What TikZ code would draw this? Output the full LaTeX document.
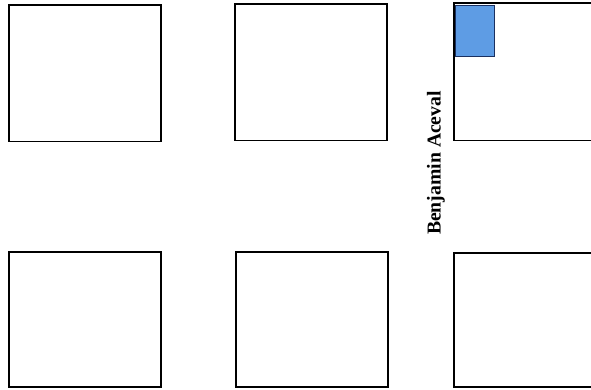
\documentclass[tikz,border=0pt]{standalone}
\usepackage{fontspec}
\setmainfont{Liberation Serif}
\usetikzlibrary{positioning}
\definecolor{seatblue}{HTML}{5E9CE4}
\definecolor{seatedge}{HTML}{1A3060}

\begin{document}
\begin{tikzpicture}[x=0.03cm, y=-0.03cm,
    panel/.style={draw=black, line width=1.3pt, fill=white, anchor=north west,
      inner sep=0pt, minimum width=4.56cm, minimum height=4.1cm},
    seat/.style={draw=seatedge, line width=1.2pt, fill=seatblue, anchor=north west,
      inner sep=0pt, minimum width=1.17cm, minimum height=1.53cm},
    tag/.style={font=\bfseries\fontsize{16.8}{18}\selectfont, rotate=90, inner sep=0pt}]
  \useasboundingbox (0,0) rectangle (591,389);
  \clip (0,0) rectangle (591,389);
  % top row
  \node[panel] (p1) at (8,4) {};
  \node[panel] (p2) at (234,3) {};
  \node[panel, minimum width=4.9cm, minimum height=4.13cm] (p3) at (453,2) {};
  % bottom row
  \node[panel, minimum height=4.06cm] (p4) at (8,251) {};
  \node[panel, minimum height=4.06cm] (p5) at (235,251) {};
  \node[panel, minimum width=4.9cm, minimum height=4.03cm] (p6) at (453,252) {};
  % seat and name
  \node[seat] (s1) at (455,5) {};
  \node[tag] (name) at (436,163) {Benjamin Aceval};
\end{tikzpicture}
\end{document}
